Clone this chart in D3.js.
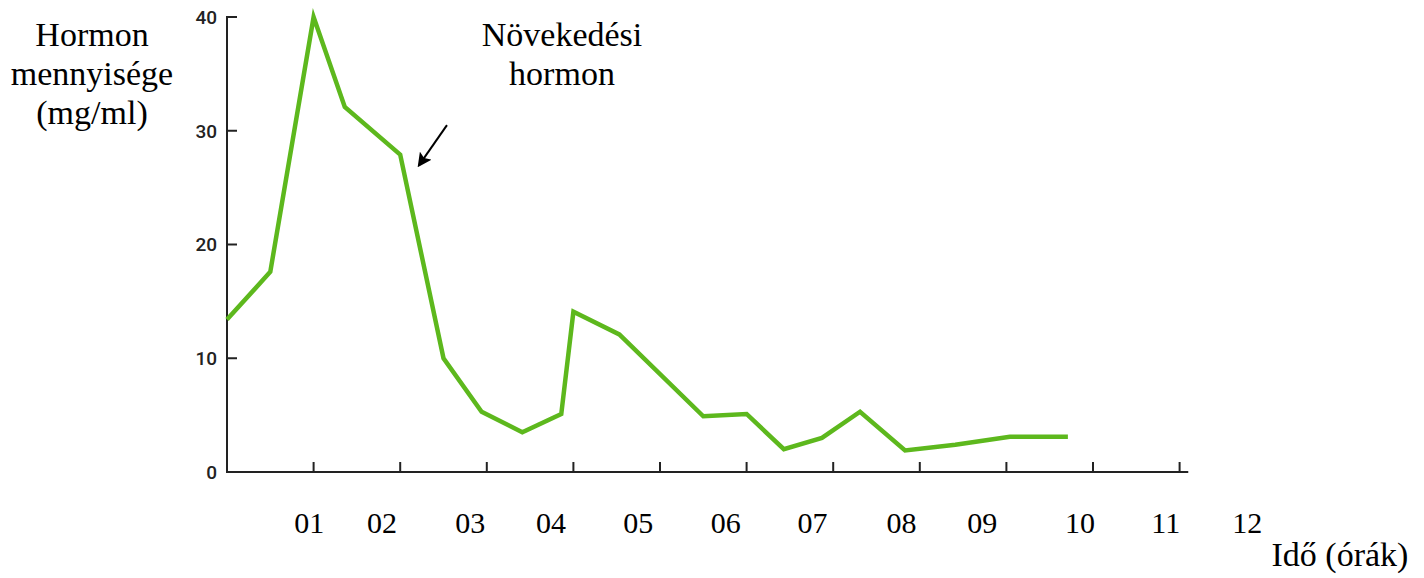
<!DOCTYPE html>
<html>
<head>
<meta charset="utf-8">
<script src="https://cdn.jsdelivr.net/npm/d3@7"></script>
<style>
  html, body { margin: 0; padding: 0; background: #fff; }
  svg { display: block; }
</style>
</head>
<body>
<div id="chart"></div>
<script>
// Data (hours since start, hormone level in mg/ml)
const hours = [0, 0.5, 1.0, 1.36, 2.0, 2.5, 2.94, 3.41, 3.86, 4.0, 4.53, 5.5, 6.0, 6.43, 6.87, 7.31, 7.83, 8.41, 9.04, 9.71];
const values = [13.4, 17.6, 40, 32.1, 27.9, 10.0, 5.3, 3.5, 5.1, 14.1, 12.1, 4.9, 5.1, 2.0, 3.0, 5.3, 1.9, 2.4, 3.1, 3.1];

const yTicks = [0, 10, 20, 30, 40];
const xTicks = [1, 2, 3, 4, 5, 6, 7, 8, 9, 10, 11];
// hour labels as printed below the axis (they sit slightly off the tick marks)
const hourLabels = ["01", "02", "03", "04", "05", "06", "07", "08", "09", "10", "11", "12"];
const hourLabelAt = [0.95, 1.79, 2.81, 3.74, 4.75, 5.76, 6.76, 7.79, 8.72, 9.85, 10.84, 11.78];

const yTitle = ["Hormon", "mennyisége", "(mg/ml)"];
const seriesTitle = ["Növekedési", "hormon"];
const xTitle = "Idő (órák)";

const W = 1424, H = 578;
const svg = d3.select("#chart").append("svg")
    .attr("width", W)
    .attr("height", H);

const x = d3.scaleLinear().domain([0, 11]).range([227, 1179.6]);
const y = d3.scaleLinear().domain([0, 40]).range([472, 17]);

const axisColor = "#222";
const serif = "'Liberation Serif', 'Times New Roman', serif";

// Y axis: line plus inward ticks
const yAxis = svg.append("g");
yAxis.append("line")
    .attr("x1", x(0)).attr("x2", x(0))
    .attr("y1", y(40) - 1).attr("y2", y(0) + 1)
    .attr("stroke", axisColor).attr("stroke-width", 2);
yAxis.selectAll("line.tick")
    .data(yTicks.filter(d => d > 0))
    .join("line")
    .attr("class", "tick")
    .attr("x1", x(0)).attr("x2", x(0) + 10)
    .attr("y1", d => y(d)).attr("y2", d => y(d))
    .attr("stroke", axisColor).attr("stroke-width", 2);
yAxis.selectAll("text")
    .data(yTicks)
    .join("text")
    .attr("x", x(0) - 10)
    .attr("y", d => y(d))
    .attr("dy", "0.36em")
    .attr("text-anchor", "end")
    .style("font-family", "Roboto, 'Liberation Sans', sans-serif")
    .style("font-size", "19px")
    .style("font-weight", "500")
    .style("fill", axisColor)
    .text(d => d);

// X axis: line plus upward ticks
const xAxis = svg.append("g");
xAxis.append("line")
    .attr("x1", x(0) - 1).attr("x2", x(11.1))
    .attr("y1", y(0)).attr("y2", y(0))
    .attr("stroke", axisColor).attr("stroke-width", 2);
xAxis.selectAll("line.tick")
    .data(xTicks)
    .join("line")
    .attr("class", "tick")
    .attr("x1", d => x(d)).attr("x2", d => x(d))
    .attr("y1", y(0)).attr("y2", y(0) - 10)
    .attr("stroke", axisColor).attr("stroke-width", 2);

svg.append("g").selectAll("text")
    .data(hourLabels)
    .join("text")
    .attr("x", (d, i) => x(hourLabelAt[i]))
    .attr("y", 533)
    .attr("text-anchor", "middle")
    .style("font-family", serif)
    .style("font-size", "30px")
    .style("fill", "#000")
    .text(d => d);

// Hormone curve
const line = d3.line()
    .x((d, i) => x(hours[i]))
    .y(d => y(d));

svg.append("path")
    .datum(values)
    .attr("d", line)
    .attr("fill", "none")
    .attr("stroke", "#5db81d")
    .attr("stroke-width", 4.5)
    .attr("stroke-linejoin", "miter")
    .attr("stroke-miterlimit", 10);

// Titles
svg.append("g").selectAll("text")
    .data(yTitle)
    .join("text")
    .attr("x", 92)
    .attr("y", (d, i) => 46 + i * 39)
    .attr("text-anchor", "middle")
    .style("font-family", serif)
    .style("font-size", "34px")
    .style("fill", "#000")
    .text(d => d);

svg.append("g").selectAll("text")
    .data(seriesTitle)
    .join("text")
    .attr("x", 562)
    .attr("y", (d, i) => 46 + i * 39)
    .attr("text-anchor", "middle")
    .style("font-family", serif)
    .style("font-size", "34px")
    .style("fill", "#000")
    .text(d => d);

svg.append("text")
    .attr("x", 1340)
    .attr("y", 566)
    .attr("text-anchor", "middle")
    .style("font-family", serif)
    .style("font-size", "34px")
    .style("fill", "#000")
    .text(xTitle);

// Arrow pointing at the curve
svg.append("defs").append("marker")
    .attr("id", "arrowhead")
    .attr("viewBox", "0 0 10 10")
    .attr("refX", 8).attr("refY", 5)
    .attr("markerWidth", 7).attr("markerHeight", 7)
    .attr("markerUnits", "strokeWidth")
    .attr("orient", "auto")
    .append("path")
    .attr("d", "M0,0 L10,5 L0,10 L2,5 z")
    .attr("fill", "#000");

svg.append("line")
    .attr("x1", x(2.54)).attr("y1", y(30.5))
    .attr("x2", x(2.22)).attr("y2", y(27.0))
    .attr("stroke", "#000")
    .attr("stroke-width", 2)
    .attr("marker-end", "url(#arrowhead)");
</script>
</body>
</html>
